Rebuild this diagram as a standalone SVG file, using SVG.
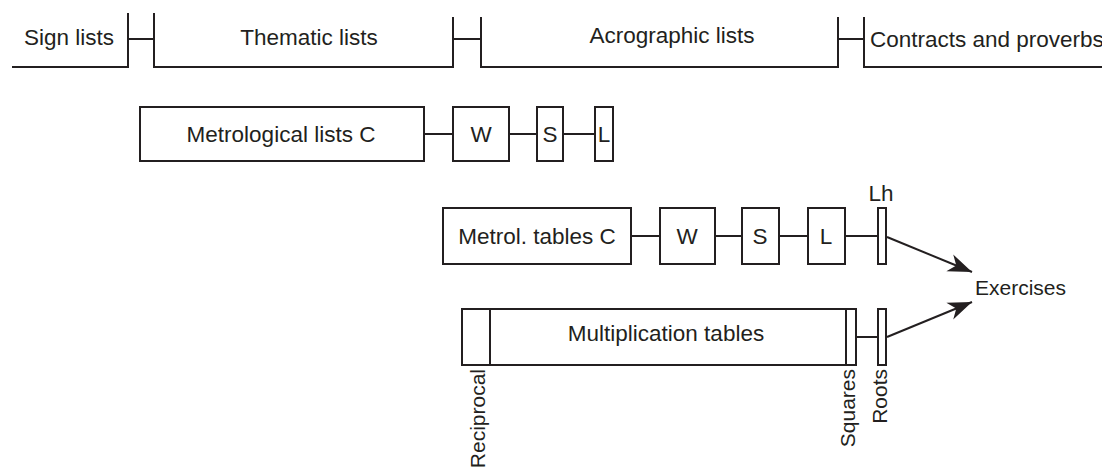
<svg xmlns="http://www.w3.org/2000/svg" width="1102" height="470" viewBox="0 0 1102 470">
<style>
.ln{fill:none;stroke:#231f20;stroke-width:2}
.bx{fill:#fff;stroke:#231f20;stroke-width:2}
.t{font-family:"Liberation Sans",Arial,sans-serif;font-size:22.5px;fill:#231f20}
.m{text-anchor:middle}
.r{font-size:21px;text-anchor:end}
</style>
<defs>
<marker id="ah" markerUnits="userSpaceOnUse" markerWidth="30" markerHeight="24" viewBox="-26 -12 28 24" refX="0" refY="0" orient="auto">
<path d="M0,0 L-24,-9 L-17,0 L-24,9 Z" fill="#231f20"/>
</marker>
</defs>
<rect width="1102" height="470" fill="#fff"/>
<g id="sign-lists">
<path class="ln" d="M12,67 H128 V13"/>
<text class="t m" x="69" y="45">Sign lists</text>
</g>
<g id="thematic-lists">
<path class="ln" d="M154,13 V67 H453 V17"/>
<text class="t m" x="309" y="45">Thematic lists</text>
</g>
<g id="acrographic-lists">
<path class="ln" d="M481,17 V67 H838 V17"/>
<text class="t m" x="672" y="43">Acrographic lists</text>
</g>
<g id="contracts">
<path class="ln" d="M864,17 V67 H1102"/>
<text class="t" x="870" y="47">Contracts and proverbs</text>
</g>
<g id="metro-lists-c">
<rect class="bx" x="140" y="107" width="284" height="54"/>
<text class="t m" x="281" y="142">Metrological lists C</text>
</g>
<g id="metro-lists-w">
<rect class="bx" x="453" y="107" width="56" height="54"/>
<text class="t m" x="481" y="142">W</text>
</g>
<g id="metro-lists-s">
<rect class="bx" x="537" y="107" width="26" height="54"/>
<text class="t m" x="550" y="142">S</text>
</g>
<g id="metro-lists-l">
<rect class="bx" x="595" y="107" width="18" height="54"/>
<text class="t m" x="604" y="142">L</text>
</g>
<g id="metro-tables-c">
<rect class="bx" x="443" y="208" width="188" height="56"/>
<text class="t m" x="537" y="244">Metrol. tables C</text>
</g>
<g id="metro-tables-w">
<rect class="bx" x="660" y="208" width="55" height="56"/>
<text class="t m" x="687" y="244">W</text>
</g>
<g id="metro-tables-s">
<rect class="bx" x="742" y="208" width="37" height="56"/>
<text class="t m" x="760" y="244">S</text>
</g>
<g id="metro-tables-l">
<rect class="bx" x="808" y="208" width="37" height="56"/>
<text class="t m" x="826" y="244">L</text>
</g>
<g id="metro-tables-lh">
<rect class="bx" x="878" y="208" width="8" height="56"/>
<text class="t m" x="881" y="201">Lh</text>
</g>
<g id="multiplication">
<rect class="bx" x="462" y="309" width="394" height="56"/>
<line class="ln" x1="490" y1="309" x2="490" y2="365"/>
<line class="ln" x1="846" y1="309" x2="846" y2="365"/>
<text class="t m" x="666" y="341">Multiplication tables</text>
<text class="t r" transform="translate(485,369) rotate(-90)">Reciprocal</text>
<text class="t r" transform="translate(855,369) rotate(-90)">Squares</text>
<text class="t r" transform="translate(887,369) rotate(-90)">Roots</text>
</g>
<g id="roots">
<rect class="bx" x="878" y="309" width="8" height="56"/>
</g>
<g id="exercises">
<text class="t" x="975" y="295" style="font-size:21px">Exercises</text>
</g>
<g id="connectors">
<line class="ln" x1="128" y1="39" x2="154" y2="39"/>
<line class="ln" x1="453" y1="39" x2="481" y2="39"/>
<line class="ln" x1="838" y1="39" x2="864" y2="39"/>
<line class="ln" x1="424" y1="134" x2="453" y2="134"/>
<line class="ln" x1="509" y1="134" x2="537" y2="134"/>
<line class="ln" x1="563" y1="134" x2="595" y2="134"/>
<line class="ln" x1="631" y1="236" x2="660" y2="236"/>
<line class="ln" x1="715" y1="236" x2="742" y2="236"/>
<line class="ln" x1="779" y1="236" x2="808" y2="236"/>
<line class="ln" x1="845" y1="236" x2="878" y2="236"/>
<line class="ln" x1="856" y1="337" x2="878" y2="337"/>
<line class="ln" x1="887" y1="237" x2="972" y2="272" marker-end="url(#ah)"/>
<line class="ln" x1="887" y1="337" x2="972" y2="302" marker-end="url(#ah)"/>
</g>
</svg>
